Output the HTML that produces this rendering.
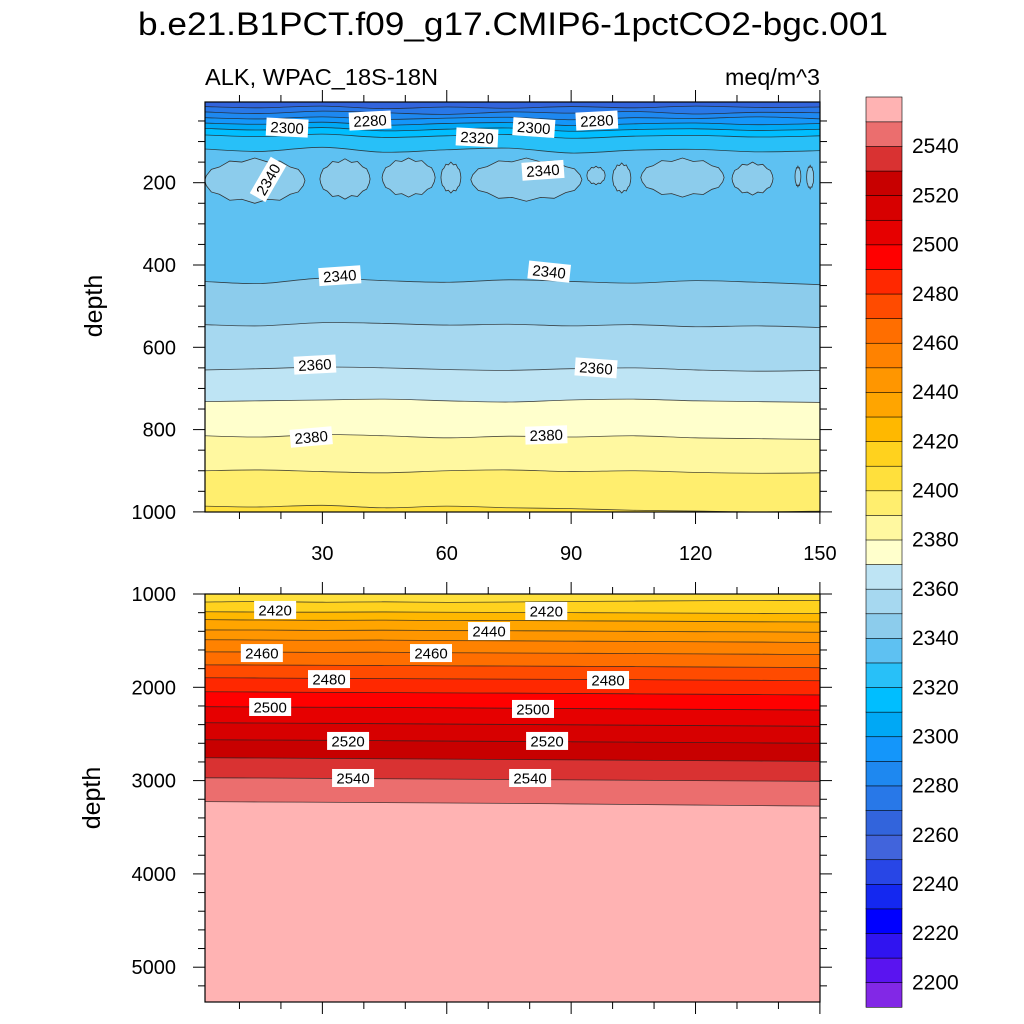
<!DOCTYPE html>
<html><head><meta charset="utf-8">
<style>
html,body{margin:0;padding:0;background:#fff;}
svg{display:block;font-family:"Liberation Sans",sans-serif;}
</style></head>
<body>
<svg id="chart" width="1024" height="1024" viewBox="0 0 1024 1024" xmlns="http://www.w3.org/2000/svg">
<text x="138" y="35" font-size="32" textLength="750" lengthAdjust="spacingAndGlyphs">b.e21.B1PCT.f09_g17.CMIP6-1pctCO2-bgc.001</text>
<text x="205" y="85" font-size="23" textLength="233" lengthAdjust="spacingAndGlyphs">ALK, WPAC_18S-18N</text>
<text x="725" y="85" font-size="23" textLength="95" lengthAdjust="spacingAndGlyphs">meq/m^3</text>
<text transform="translate(102,306) rotate(-90)" text-anchor="middle" font-size="25">depth</text>
<text transform="translate(100,798) rotate(-90)" text-anchor="middle" font-size="25">depth</text>
<defs>
<clipPath id="clipT"><rect x="205" y="102" width="615" height="410"/></clipPath>
<clipPath id="clipB"><rect x="205" y="594" width="615" height="408"/></clipPath>
</defs>
<g id="topPanel" clip-path="url(#clipT)"></g>
<g id="botPanel" clip-path="url(#clipB)"></g>
<g id="labels"></g>
<g id="axes"></g>
<g id="cbar"></g>
</svg>
<script>
// ---- data ----
const bandColors = ["#8228E6","#5A14F0","#3014F0","#0000FF","#1428F0","#2846E6","#4164DC","#3264DC","#2878E8","#1E88F0",
"#1496FA","#00A8F5","#00BEFF","#28C0F8","#5EC1F2","#8CCCEC","#A6D8F0","#BEE4F4","#FFFFCC","#FFF8A0",
"#FFEE6E","#FFE03C","#FFD21E","#FFB800","#FFA500","#FF9600","#FF8200","#FF6E00","#FF4B00","#FF2800",
"#FF0000","#E60000","#D70000","#C80000","#D93232","#EB6E6E","#FFB3B3"];
const cbarLabels = [2200,2220,2240,2260,2280,2300,2320,2340,2360,2380,2400,2420,2440,2460,2480,2500,2520,2540];
const gridX = [1.6,15,30,45,60,75,90,105,120,135,150.5];
const topLevels = [2270,2280,2290,2300,2310,2320,2330,2340,2350,2360,2370,2380,2390,2400];
const topDepths = [
 [15,18,14,20,16,19,15,18,14,17,16],
 [28,32,26,30,34,28,31,27,33,29,30],
 [42,45,40,46,43,41,47,42,44,40,45],
 [55,58,53,60,56,54,61,57,55,59,56],
 [68,72,66,74,70,67,75,71,69,73,70],
 [84,88,82,90,86,83,92,87,85,89,86],
 [118,124,114,126,120,116,128,121,119,125,122],
 [440,445,432,438,442,436,440,444,438,442,448],
 [545,548,540,542,546,544,548,545,550,548,552],
 [655,652,648,650,654,656,652,650,655,658,656],
 [732,730,728,726,730,733,728,726,730,732,734],
 [815,818,812,815,820,816,818,815,820,822,824],
 [900,898,902,905,900,898,902,900,904,906,905],
 [986,988,984,990,986,990,992,996,998,1000,998]];
const topTopValue = 2265;
// patches of 2340 (x start, x end, top depth, bottom depth)
const patchX1 = [1.6,29.4,44.4,58.6,65.8,93.8,100,106.8,128.8,144,146.8];
const patchX2 = [25.8,41.5,57.2,63.4,92.6,98.2,104.4,126.9,138.7,145.4,148.5];
const patchTop = [140,142,140,150,140,160,152,140,150,160,158];
const patchBot = [250,240,235,225,245,205,225,235,230,210,215];
const botLevels = [2410,2420,2430,2440,2450,2460,2470,2480,2490,2500,2510,2520,2530,2540,2550];
const botDepths = [
 [1086,1080,1088,1084,1090,1086,1080,1076,1072,1070,1068],
 [1190,1193,1195,1192,1196,1198,1200,1202,1205,1208,1210],
 [1275,1279,1282,1280,1285,1284,1288,1290,1294,1298,1300],
 [1385,1386,1390,1388,1392,1394,1396,1400,1404,1406,1410],
 [1490,1493,1496,1494,1500,1502,1505,1508,1512,1515,1520],
 [1620,1622,1626,1624,1630,1632,1635,1638,1642,1645,1650],
 [1760,1761,1764,1766,1770,1772,1775,1778,1782,1785,1790],
 [1898,1900,1904,1906,1910,1912,1915,1918,1922,1925,1930],
 [2048,2050,2054,2056,2060,2062,2066,2070,2074,2078,2082],
 [2208,2211,2214,2216,2220,2224,2228,2232,2236,2240,2244],
 [2380,2383,2386,2390,2394,2398,2402,2406,2410,2414,2418],
 [2562,2565,2568,2572,2576,2580,2584,2588,2592,2596,2600],
 [2755,2758,2762,2766,2770,2774,2778,2782,2786,2790,2794],
 [2970,2972,2976,2980,2984,2988,2992,2996,3000,3004,3008],
 [3225,3229,3232,3236,3240,3244,3250,3256,3262,3268,3274]];
const botTopValue = 2405;
const topLabelText = [2300,2280,2320,2300,2280,2340,2340,2340,2340,2360,2360,2380,2380];
const topLabelX = [21.5,41.5,67.3,81,96.2,16.9,83.2,34.2,84.7,28.2,96,27.3,84];
const topLabelD = [66,49,90,66,49,192,170,426,416,642,650,818,813];
const topLabelRot = [3,-3,3,4,-3,-60,-4,-4,6,-3,4,-5,-2];
const botLabelText = [2420,2420,2440,2460,2460,2480,2480,2500,2500,2520,2520,2540,2540];
const botLabelX = [18.6,84,70.2,15.4,56.2,31.6,98.9,17.4,80.8,36.2,84.2,37.4,80.1];
const botLabelD = [1171,1182,1397,1633,1633,1912,1922,2211,2232,2575,2575,2972,2972];
const xTicks = [30,60,90,120,150];
const topYTicks = [200,400,600,800,1000];
const botYTicks = [1000,2000,3000,4000,5000];

// ---- scales ----
const NS = "http://www.w3.org/2000/svg";
const PL = 205, PR = 820;
function sx(x){ return 198 + x*4.146; }
function syT(d){ return 100.4 + d*0.4115; }
function syB(d){ return 594 + (d-1000)*0.0933; }
function bandOf(v){ return Math.max(0, Math.min(36, Math.floor((v-2200)/10)+1)); }
function mk(tag, attrs, parent){ const e=document.createElementNS(NS,tag); for(const k in attrs) e.setAttribute(k,attrs[k]); parent.appendChild(e); return e; }
function linePts(depths, sy){ return gridX.map((x,i)=>[Math.max(PL-2,Math.min(PR+2,sx(x))), sy(depths[i])]); }
function smoothPath(pts){
  let d = "M"+pts[0][0]+","+pts[0][1];
  for(let i=0;i<pts.length-1;i++){
    const p0=pts[Math.max(0,i-1)],p1=pts[i],p2=pts[i+1],p3=pts[Math.min(pts.length-1,i+2)];
    d+=" C"+(p1[0]+(p2[0]-p0[0])/6)+","+(p1[1]+(p2[1]-p0[1])/6)+" "+(p2[0]-(p3[0]-p1[0])/6)+","+(p2[1]-(p3[1]-p1[1])/6)+" "+p2[0]+","+p2[1];
  }
  return d;
}
function drawPanel(g, levels, depths, topVal, sy, yTop, yBot){
  const bg = mk("rect",{x:PL,y:yTop,width:PR-PL,height:yBot-yTop,fill:bandColors[bandOf(topVal)]},g);
  
  
  levels.forEach((lv,i)=>{
    const pts = linePts(depths[i], sy);
    const p = smoothPath(pts);
    const f = mk("path",{d:p+" L"+(PR+2)+","+(yBot+2)+" L"+(PL-2)+","+(yBot+2)+" Z",fill:bandColors[bandOf(lv)],stroke:"none"},g);
    
    
  });
  levels.forEach((lv,i)=>{
    const pts = linePts(depths[i], sy);
    const l = mk("path",{d:smoothPath(pts),fill:"none",stroke:"#222",'stroke-width':0.8,opacity:0.8},g);
    
    
  });
}
const gT = document.getElementById("topPanel");
drawPanel(gT, topLevels, topDepths, topTopValue, syT, 102, 512);
// patches
patchX1.forEach((x1,i)=>{
  const x2=patchX2[i], a=sx(x1), b=sx(x2), t=syT(patchTop[i]), bt=syT(patchBot[i]);
  const cx=(a+b)/2, cy=(t+bt)/2, rx=(b-a)/2, ry=(bt-t)/2;
  let d=""; const n=24;
  for(let k=0;k<=n;k++){ const th=k/n*2*Math.PI; const j=(k%2?0.85:1.0);
    d+=(k?"L":"M")+(cx+rx*Math.cos(th))+","+(cy+ry*j*Math.sin(th)); }
  const p = mk("path",{d:d+"Z",fill:bandColors[bandOf(2340)],stroke:"#333",'stroke-width':0.8},gT);
  
  
});
const gB = document.getElementById("botPanel");
drawPanel(gB, botLevels, botDepths, botTopValue, syB, 594, 1002);

// labels
const gL = document.getElementById("labels");
function addLabel(txt, x, y, rot){
  const g = mk("g",{transform:"translate("+x+","+y+") rotate("+rot+")"},gL);
  
  
  mk("rect",{x:-21,y:-9,width:42,height:18,fill:"#fff"},g);
  const t = mk("text",{x:0,y:5.5,'text-anchor':'middle','font-size':15,fill:"#000"},g);
  t.textContent = txt;
}
topLabelText.forEach((t,i)=>addLabel(t, sx(topLabelX[i]), syT(topLabelD[i]), topLabelRot[i]));
botLabelText.forEach((t,i)=>addLabel(t, sx(botLabelX[i]), syB(botLabelD[i]), 0));

// axes
const gA = document.getElementById("axes");
function ln(x1,y1,x2,y2,name){ const l=mk("line",{x1:x1,y1:y1,x2:x2,y2:y2,stroke:"#000",'stroke-width':1},gA);   }
function txt(x,y,s,anchor,name){ const t=mk("text",{x:x,y:y,'text-anchor':anchor,'font-size':20},gA); t.textContent=s;   }
[[102,512],[594,1002]].forEach(([y0,y1],pi)=>{
  const r=mk("rect",{x:PL,y:y0,width:PR-PL,height:y1-y0,fill:"none",stroke:"#000",'stroke-width':1.2},gA);
  
  
  for(let x=10;x<=150;x+=10){
    const major = xTicks.includes(x); const X=sx(x); const L=major?12:7;
    ln(X,y0,X,y0-L,'x-tick-top'); ln(X,y1,X,y1+L,'x-tick-bottom');
  }
});
xTicks.forEach(x=>txt(sx(x),560,String(x),'middle','x-tick-label'));
for(let d=50; d<=1000; d+=50){
  const major = topYTicks.includes(d); const Y=syT(d); const L=major?12:7;
  ln(PL,Y,PL-L,Y,'y-tick-left'); ln(PR,Y,PR+L,Y,'y-tick-right');
}
topYTicks.forEach(d=>txt(176,syT(d)+7,String(d),'end','y-tick-label-top'));
for(let d=1000; d<=5200; d+=200){
  const major = botYTicks.includes(d); const Y=syB(d); const L=major?12:7;
  ln(PL,Y,PL-L,Y,'y-tick-left'); ln(PR,Y,PR+L,Y,'y-tick-right');
}
botYTicks.forEach(d=>txt(176,syB(d)+7,String(d),'end','y-tick-label-bottom'));

// colorbar
const gC = document.getElementById("cbar");
const cbTop=97, cbBot=1007, cbX=866, cbW=36, bh=(cbBot-cbTop)/bandColors.length;
bandColors.forEach((c,j)=>{
  const y = cbBot - (j+1)*bh;
  const r = mk("rect",{x:cbX,y:y,width:cbW,height:bh+0.3,fill:c,stroke:"#000",'stroke-width':0.6},gC);
  
  
});
cbarLabels.forEach(v=>{
  const y = cbBot - ((v-2200)/10+1)*bh;
  const t = mk("text",{x:912,y:y+7,'font-size':21},gC);
  t.textContent = v;
  
  
});
</script>
</body></html>
